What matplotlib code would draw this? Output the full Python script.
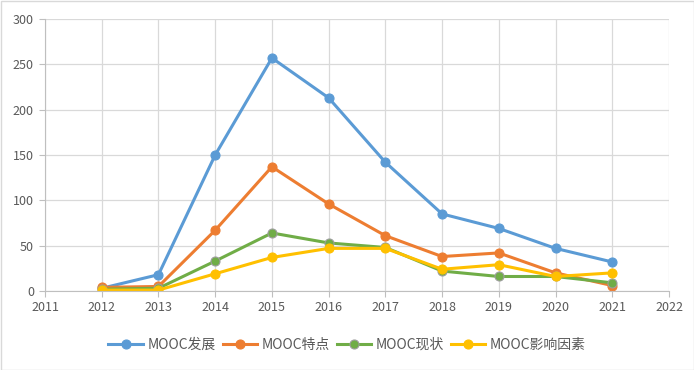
import matplotlib
matplotlib.use("Agg")
import matplotlib.pyplot as plt

plt.rcParams['font.family'] = ['Noto Sans CJK SC', 'DejaVu Sans']

years = [2012, 2013, 2014, 2015, 2016, 2017, 2018, 2019, 2020, 2021]
fazhan = [3, 18, 150, 257, 213, 142, 85, 69, 47, 32]
tedian = [4, 5, 67, 137, 96, 61, 38, 42, 20, 6]
xianzhuang = [2, 3, 33, 64, 53, 48, 22, 16, 16, 9]
yinsu = [1, 1, 19, 37, 47, 47, 24, 29, 16, 20]
labels = ['MOOC发展', 'MOOC特点', 'MOOC现状', 'MOOC影响因素']
x_ticks = list(range(2011, 2023))
y_ticks = [0, 50, 100, 150, 200, 250, 300]

colors = ['#5B9BD5', '#ED7D31', '#70AD47', '#FFC000']
edges = ['#5B9BD5', '#ED7D31', '#9E9E9E', '#FFC000']

fig = plt.figure(figsize=(6.94, 3.70), dpi=100)
ax = fig.add_axes([45/694, 1-291/370, (669-45)/694, (291-19)/370])

for vals, c, e, lab in zip([fazhan, tedian, xianzhuang, yinsu], colors, edges, labels):
    ax.plot(years, vals, color=c, lw=2.2, marker='o', ms=6.5, markerfacecolor=c,
            markeredgecolor=e, markeredgewidth=0.8, label=lab)

ax.set_xlim(2011, 2022)
ax.set_ylim(0, 300)
ax.set_xticks(x_ticks)
ax.set_yticks(y_ticks)
ax.grid(True, color='#D9D9D9', lw=0.9)
ax.set_axisbelow(True)
for s in ['top', 'right']:
    ax.spines[s].set_visible(False)
for s in ['left', 'bottom']:
    ax.spines[s].set_color('#BFBFBF')
ax.tick_params(axis='both', colors='#BFBFBF', labelcolor='#595959', labelsize=9, length=4)
ax.tick_params(axis='y', pad=4)

fig.legend(loc='center', bbox_to_anchor=(0.5, 1-345/370), ncol=4, frameon=False,
           fontsize=10, handlelength=2.5, columnspacing=0.5, handletextpad=0.3,
           labelcolor='#595959')

border = plt.Rectangle((0.5/694, 0.5/370), 1-1/694, 1-1/370, transform=fig.transFigure,
                       fill=False, edgecolor='#D9D9D9', lw=1)
fig.patches.append(border)

fig.savefig('out.png', dpi=100)
